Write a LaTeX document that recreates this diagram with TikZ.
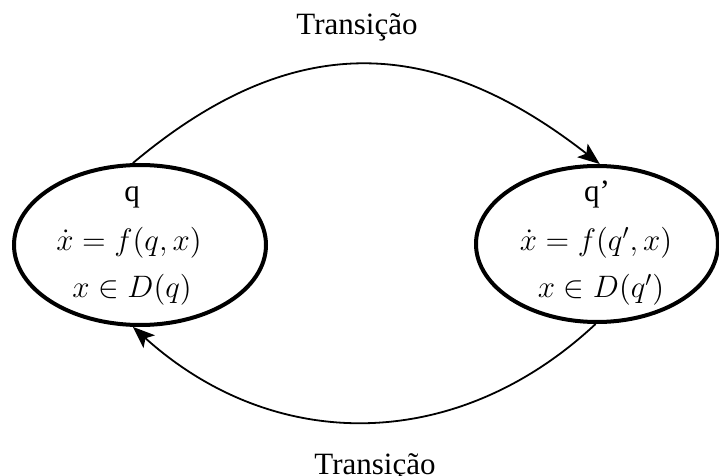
\RequirePackage{fix-cm}
\documentclass[tikz,border=0pt]{standalone}
\usepackage{fontspec}
\setmainfont{Liberation Serif}
\usetikzlibrary{arrows.meta, shapes.geometric}

\begin{document}
\begin{tikzpicture}[x=0.5pt, y=-0.5pt,
		font=\fontsize{15.5}{18}\selectfont,
		estado/.style={ellipse, draw, line width=2pt, inner sep=0pt},
		texto/.style={anchor=base, inner sep=0pt},
		transicao/.style={line width=0.9pt, -{Stealth[length=11pt, width=8.5pt, inset=2.5pt]}}]
	\useasboundingbox (0, 0) rectangle (719, 476);
	\node[estado, minimum width=126pt, minimum height=80pt] (q) at (140, 245) {};
	\node[estado, minimum width=121pt, minimum height=78pt] (qp) at (597, 244) {};
	\node[texto] (qnome) at (132, 202) {q};
	\node[texto] (qdin) at (129, 251) {$\dot{x}=f(q,x)$};
	\node[texto] (qdom) at (132, 298) {$x\in D(q)$};
	\node[texto] (qpnome) at (597, 202) {q’};
	\node[texto] (qpdin) at (596, 251) {$\dot{x}=f(q',x)$};
	\node[texto] (qpdom) at (601, 298) {$x\in D(q')$};
	\draw[transicao] (q.95) .. controls +(157, -132) and +(-169, -132) .. (qp.88);
	\draw[transicao] (qp.269) .. controls +(-138, 129) and +(142, 128) .. (q.265);
	\node[texto] (rotulo1) at (357, 35) {Transição};
	\node[texto] (rotulo2) at (375, 474) {Transição};
\end{tikzpicture}
\end{document}
